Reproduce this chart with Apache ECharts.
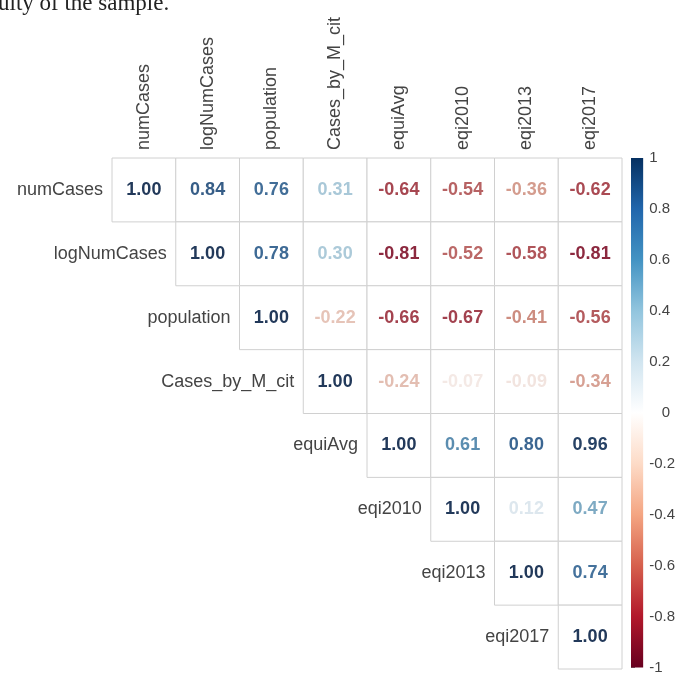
<!DOCTYPE html>
<html>
<head>
<meta charset="utf-8">
<script src="https://cdn.jsdelivr.net/npm/echarts@6/dist/echarts.min.js"></script>
<style>
  html, body { margin: 0; padding: 0; background: #fff; }
  #chart { width: 678px; height: 675px; }
</style>
</head>
<body>
<div id="chart"></div>
<script>
// Variable names (rows and columns of the correlation matrix)
const vars = ['numCases', 'logNumCases', 'population', 'Cases_by_M_cit',
              'equiAvg', 'eqi2010', 'eqi2013', 'eqi2017'];

// Upper-triangle correlations, one array per row (starting at the diagonal)
const rowNumCases     = [1.00, 0.84, 0.76, 0.31, -0.64, -0.54, -0.36, -0.62];
const rowLogNumCases  = [1.00, 0.78, 0.30, -0.81, -0.52, -0.58, -0.81];
const rowPopulation   = [1.00, -0.22, -0.66, -0.67, -0.41, -0.56];
const rowCasesByMcit  = [1.00, -0.24, -0.07, -0.09, -0.34];
const rowEquiAvg      = [1.00, 0.61, 0.80, 0.96];
const rowEqi2010      = [1.00, 0.12, 0.47];
const rowEqi2013      = [1.00, 0.74];
const rowEqi2017      = [1.00];

// Colour legend range and palettes (RdBu, low to high)
const legendRange = [-1, 1];
const legendPalette = ['#67001F', '#B2182B', '#D6604D', '#F4A582', '#FDDBC7', '#FFFFFF',
                       '#D1E5F0', '#92C5DE', '#4393C3', '#2166AC', '#053061'];
// softer shades of the same scale for the coefficient text
const textPalette = ['#6a1a30', '#8e2a40', '#ad4e55', '#cf9082', '#e8cabe', '#fafafa',
                     '#c9dbe6', '#8fb9cc', '#5d8fb2', '#3b6692', '#22395a'];

const rows = [rowNumCases, rowLogNumCases, rowPopulation, rowCasesByMcit,
              rowEquiAvg, rowEqi2010, rowEqi2013, rowEqi2017];

// [column, row, value] for every upper-triangle cell
const cells = [];
rows.forEach((r, i) => r.forEach((v, k) => cells.push([i + k, i, v])));

const labelColor = '#444';
const gridColor = '#d0d0d0';
const sans = 'Arial, "Liberation Sans", sans-serif';

const chart = echarts.init(document.getElementById('chart'), null, { renderer: 'canvas' });

chart.setOption({
  animation: false,
  backgroundColor: '#fff',
  graphic: [{
    type: 'text',
    left: -2,
    top: -8,
    style: {
      text: 'ulty of the sample.',
      font: '23px "Liberation Serif", "DejaVu Serif", serif',
      fill: '#222'
    }
  }],
  grid: [
    { left: 112, top: 158, width: 510, height: 511 },
    { left: 631, top: 158, width: 19, height: 512 }
  ],
  xAxis: [{
    type: 'category',
    gridIndex: 0,
    data: vars,
    position: 'top',
    axisLine: { show: false },
    axisTick: { show: false },
    axisLabel: { show: false },
    splitLine: { show: false }
  }, {
    type: 'value',
    gridIndex: 1,
    min: 0,
    max: 1,
    show: false
  }],
  yAxis: [{
    type: 'category',
    gridIndex: 0,
    data: vars,
    inverse: true,
    axisLine: { show: false },
    axisTick: { show: false },
    axisLabel: { show: false },
    splitLine: { show: false }
  }, {
    type: 'value',
    gridIndex: 1,
    min: legendRange[0],
    max: legendRange[1],
    interval: 0.2,
    position: 'right',
    axisLine: { show: false },
    splitLine: { show: false },
    axisTick: { show: true, length: 4, lineStyle: { color: '#777' } },
    axisLabel: {
      margin: 6,
      fontSize: 15,
      fontFamily: sans,
      color: labelColor,
      // the zero label is set further in from the bar
      formatter: v => (Math.abs(v) < 1e-9 ? '   0' : String(+v.toFixed(1)))
    }
  }],
  visualMap: {
    type: 'continuous',
    show: false,
    seriesIndex: 0,
    dimension: 2,
    min: legendRange[0],
    max: legendRange[1],
    inRange: { color: textPalette }
  },
  series: [{
    // correlation cells: bordered box and coloured coefficient, with the
    // variable name beside each diagonal cell and above each first-row cell
    type: 'custom',
    xAxisIndex: 0,
    yAxisIndex: 0,
    data: cells,
    renderItem: (params, api) => {
      const col = api.value(0), row = api.value(1), v = api.value(2);
      const p = api.coord([col, row]);
      const s = api.size([1, 1]);
      const children = [{
        type: 'rect',
        shape: { x: p[0] - s[0] / 2, y: p[1] - s[1] / 2, width: s[0], height: s[1] },
        style: { fill: '#fff', stroke: gridColor, lineWidth: 1 }
      }, {
        type: 'text',
        x: p[0],
        y: p[1],
        style: {
          text: v.toFixed(2),
          fill: api.visual('color'),
          font: 'bold 18px ' + sans,
          align: 'center',
          verticalAlign: 'middle'
        }
      }];
      if (col === row) {
        children.push({
          type: 'text',
          x: p[0] - s[0] / 2 - 9,
          y: p[1],
          style: {
            text: vars[row],
            fill: labelColor,
            font: '18px ' + sans,
            align: 'right',
            verticalAlign: 'middle'
          }
        });
      }
      if (row === 0) {
        children.push({
          type: 'text',
          x: p[0],
          y: p[1] - s[1] / 2 - 8,
          rotation: Math.PI / 2,
          style: {
            text: vars[col],
            fill: labelColor,
            font: '18px ' + sans,
            align: 'left',
            verticalAlign: 'middle'
          }
        });
      }
      return { type: 'group', children };
    }
  }, {
    // colour legend bar spanning the full correlation range
    type: 'custom',
    xAxisIndex: 1,
    yAxisIndex: 1,
    data: [[0, legendRange[0], 1, legendRange[1]]],
    renderItem: (params, api) => {
      const a = api.coord([api.value(0), api.value(3)]);
      const b = api.coord([api.value(2), api.value(1)]);
      const stops = legendPalette.slice().reverse()
        .map((c, i) => ({ offset: i / (legendPalette.length - 1), color: c }));
      return {
        type: 'rect',
        shape: { x: a[0], y: a[1], width: b[0] - a[0], height: b[1] - a[1] },
        style: { fill: new echarts.graphic.LinearGradient(0, 0, 0, 1, stops) }
      };
    }
  }]
});
</script>
</body>
</html>
